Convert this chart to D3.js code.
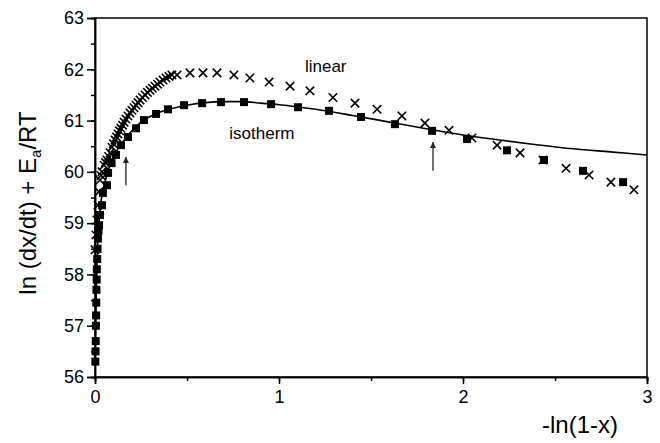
<!DOCTYPE html>
<html lang="en">
<head>
  <meta charset="utf-8" />
  <style>
    body { margin: 0; background: #fff; }
    text { font-family: "Liberation Sans", Arial, sans-serif; fill: #000; }
  </style>
</head>
<body>
<svg width="660" height="443"></svg>
<script src="https://d3js.org/d3.v7.min.js"></script>
<script>
// isotherm (filled squares)
var isoX = [0.002, 0.003, 0.004, 0.005, 0.006, 0.007, 0.008, 0.009, 0.010, 0.012, 0.014, 0.016, 0.019,
            0.022, 0.027, 0.038, 0.043, 0.065, 0.071, 0.090, 0.114, 0.141, 0.179, 0.223, 0.266, 0.332,
            0.397, 0.484, 0.582, 0.685, 0.810, 0.957, 1.103, 1.272, 1.446, 1.630, 1.832, 2.022, 2.239,
            2.440, 2.652, 2.870];
var isoY = [56.3, 56.5, 56.7, 57.0, 57.2, 57.45, 57.7, 57.9, 58.1, 58.3, 58.5, 58.7, 58.85,
            58.96, 59.16, 59.35, 59.59, 59.74, 59.98, 60.17, 60.33, 60.52, 60.68, 60.85, 61.01, 61.13,
            61.22, 61.30, 61.34, 61.36, 61.36, 61.32, 61.26, 61.19, 61.07, 60.93, 60.80, 60.64, 60.42,
            60.23, 60.02, 59.80];

// linear heating (crosses)
var linX = [0.000, 0.005, 0.011, 0.016, 0.022, 0.027, 0.033, 0.038, 0.049, 0.057, 0.065, 0.074, 0.082,
            0.092, 0.100, 0.109, 0.117, 0.125, 0.133, 0.141, 0.150, 0.158, 0.168, 0.179, 0.190, 0.201,
            0.212, 0.223, 0.234, 0.245, 0.258, 0.272, 0.285, 0.299, 0.312, 0.326, 0.340, 0.353, 0.370,
            0.386, 0.402, 0.418, 0.446,
            0.516, 0.587, 0.663, 0.755, 0.842, 0.946, 1.060, 1.168, 1.293, 1.413, 1.533, 1.668, 1.793,
            1.924, 2.049, 2.185, 2.310, 2.435, 2.560, 2.685, 2.804, 2.929];
var linY = [58.48, 58.77, 59.06, 59.35, 59.61, 59.84, 59.93, 60.00, 60.13, 60.18, 60.23, 60.30, 60.37,
            60.48, 60.55, 60.62, 60.68, 60.74, 60.80, 60.85, 60.91, 60.97, 61.03, 61.09, 61.15, 61.20,
            61.25, 61.30, 61.35, 61.40, 61.45, 61.50, 61.55, 61.59, 61.63, 61.67, 61.71, 61.75, 61.79,
            61.83, 61.86, 61.89, 61.89,
            61.93, 61.93, 61.93, 61.89, 61.83, 61.75, 61.67, 61.58, 61.45, 61.34, 61.22, 61.09, 60.95,
            60.81, 60.66, 60.52, 60.37, 60.23, 60.07, 59.94, 59.80, 59.65];

// fitted curve (solid line)
var fitX = [0, 0.003, 0.006, 0.010, 0.015, 0.022, 0.030, 0.045, 0.065, 0.090, 0.120, 0.150, 0.200,
            0.250, 0.300, 0.400, 0.500, 0.600, 0.700, 0.800, 0.900, 1.000, 1.200, 1.400, 1.600, 1.800,
            2.000, 2.200, 2.400, 2.600, 2.800, 3.000];
var fitY = [56.3, 56.9, 57.5, 58.1, 58.6, 59.0, 59.35, 59.65, 59.95, 60.2, 60.42, 60.58, 60.8,
            60.97, 61.08, 61.22, 61.3, 61.35, 61.37, 61.37, 61.34, 61.31, 61.22, 61.1, 60.97, 60.84,
            60.72, 60.62, 60.53, 60.45, 60.39, 60.33];

var xTicks = [0, 1, 2, 3];
var yTicks = [56, 57, 58, 59, 60, 61, 62, 63];

var svg = d3.select("svg"),
    margin = {left: 95, right: 13, top: 18, bottom: 66},
    width = 660 - margin.left - margin.right,
    height = 443 - margin.top - margin.bottom;

var x = d3.scaleLinear().domain([0, 3]).range([margin.left, margin.left + width]);
var y = d3.scaleLinear().domain([56, 63]).range([margin.top + height, margin.top]);

// frame
svg.append("rect")
  .attr("x", x(0)).attr("y", y(63))
  .attr("width", x(3) - x(0)).attr("height", y(56) - y(63))
  .attr("fill", "none").attr("stroke", "#000").attr("stroke-width", 1.5);

// minor ticks
var xAxisMinor = d3.axisBottom(x).tickValues(d3.range(0, 3.01, 0.5)).tickSize(4).tickFormat("");
var yAxisMinor = d3.axisLeft(y).tickValues(d3.range(56, 63.01, 0.5)).tickSize(4).tickFormat("");
var xAxis = d3.axisBottom(x).tickValues(xTicks).tickSize(7).tickPadding(6).tickFormat(d3.format("d"));
var yAxis = d3.axisLeft(y).tickValues(yTicks).tickSize(8).tickPadding(3).tickFormat(d3.format("d"));

[[xAxisMinor, "x"], [xAxis, "x"], [yAxisMinor, "y"], [yAxis, "y"]].forEach(function(a) {
  var g = svg.append("g")
    .attr("transform", a[1] === "x" ? "translate(0," + y(56) + ")" : "translate(" + x(0) + ",0)")
    .call(a[0]);
  g.select(".domain").attr("stroke-width", 1.5);
  g.selectAll(".tick line").attr("stroke-width", 1.5);
  g.selectAll("text").style("font-size", "18px").attr("font-family", "Liberation Sans, Arial, sans-serif");
});

// fit line
svg.append("path")
  .datum(fitX.map(function(d, i) { return [d, fitY[i]]; }))
  .attr("fill", "none")
  .attr("stroke", "#000")
  .attr("stroke-width", 1.6)
  .attr("d", d3.line().curve(d3.curveMonotoneX)
    .x(function(d) { return x(d[0]); })
    .y(function(d) { return y(d[1]); }));

// crosses
var s = 4.2;
svg.append("g").selectAll("path")
  .data(linX.map(function(d, i) { return [d, linY[i]]; }))
  .enter().append("path")
  .attr("d", function(d) {
    var cx = x(d[0]), cy = y(d[1]);
    return "M" + (cx - s) + "," + (cy - s) + "L" + (cx + s) + "," + (cy + s) +
           "M" + (cx - s) + "," + (cy + s) + "L" + (cx + s) + "," + (cy - s);
  })
  .attr("stroke", "#000").attr("stroke-width", 1.6);

// squares
svg.append("g").selectAll("rect")
  .data(isoX.map(function(d, i) { return [d, isoY[i]]; }))
  .enter().append("rect")
  .attr("x", function(d) { return x(d[0]) - 4; })
  .attr("y", function(d) { return y(d[1]) - 4; })
  .attr("width", 8).attr("height", 8)
  .attr("fill", "#000");

// arrows
svg.append("defs").append("marker")
  .attr("id", "head").attr("viewBox", "0 0 10 10")
  .attr("refX", 10).attr("refY", 5)
  .attr("markerWidth", 8).attr("markerHeight", 6)
  .attr("markerUnits", "userSpaceOnUse")
  .attr("orient", "auto")
  .append("path").attr("d", "M0,0L10,5L0,10Z").attr("fill", "#222");

[[0.168, 59.74, 60.29], [1.837, 60.02, 60.58]].forEach(function(a) {
  svg.append("line")
    .attr("x1", x(a[0])).attr("x2", x(a[0]))
    .attr("y1", y(a[1])).attr("y2", y(a[2]))
    .attr("stroke", "#222").attr("stroke-width", 1.3)
    .attr("marker-end", "url(#head)");
});

// labels
svg.append("text").attr("x", x(1.141)).attr("y", y(61.95))
  .style("font-size", "17px").text("linear");
svg.append("text").attr("x", x(0.73)).attr("y", y(60.65))
  .style("font-size", "17px").text("isotherm");

svg.append("text")
  .attr("x", 580).attr("y", 433)
  .attr("text-anchor", "middle")
  .style("font-size", "24px")
  .text("-ln(1-x)");

var yt = svg.append("text")
  .attr("transform", "translate(36," + 203 + ") rotate(-90)")
  .attr("text-anchor", "middle")
  .style("font-size", "24px");
yt.append("tspan").text("ln (dx/dt) + E");
yt.append("tspan").attr("dy", 5).style("font-size", "15px").text("a");
yt.append("tspan").attr("dy", -5).text("/RT");
</script>
</body>
</html>
